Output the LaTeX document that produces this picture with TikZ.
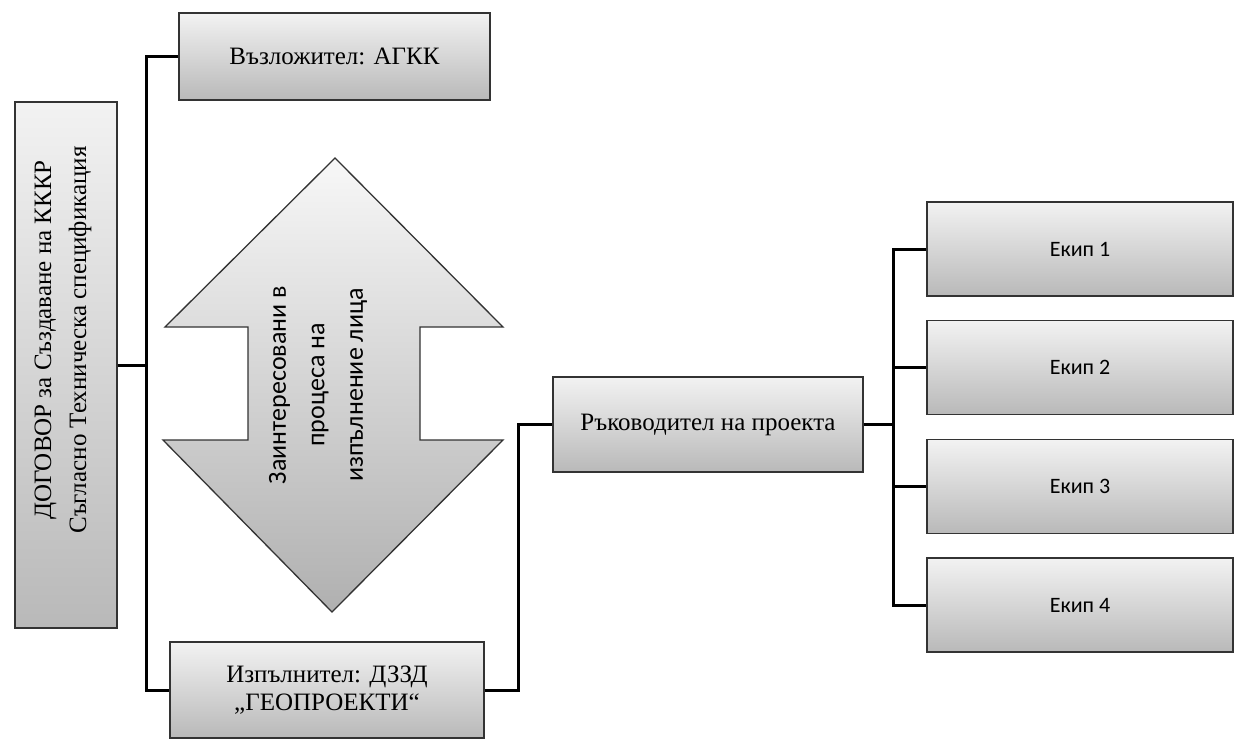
\documentclass[tikz,border=0pt]{standalone}
\usepackage{fontspec}
\setmainfont{Liberation Serif}
\newfontfamily\calibri{Carlito}
\usepackage{tikz}
\usepackage{xcolor}

\begin{document}
\begin{tikzpicture}[x=1pt,y=-1pt,
        box/.style={rectangle,draw=black!80,line width=1.3pt,top color=gray!10,bottom color=gray!55,
            inner sep=2pt,align=center,font=\fontsize{25}{28}\selectfont},
        team/.style={box,minimum width=306,minimum height=94,font=\calibri\fontsize{22}{26}\selectfont},
        link/.style={line width=3pt,black}]
                \useasboundingbox (0,0) rectangle (1236,740);

                % contract and the two parties
                \node (dog) at (66,365) [box,rotate=90,minimum width=526,minimum height=102] {};
                \node (dogt) at (63,340) [rotate=90,align=center,font=\fontsize{25}{35}\selectfont] {ДОГОВОР за Създаване на КККР\\Съгласно Техническа спецификация};
                \node (vaz) at (334.5,56.5) [box,minimum width=311,minimum height=87] {Възложител: АГКК};
                \node (izp) at (327,690) [box,minimum width=314,minimum height=96] {Изпълнител: ДЗЗД\\„ГЕОПРОЕКТИ“};
                \node (ruk) at (708,424.5) [box,minimum width=310,minimum height=95] {Ръководител на проекта};

                % teams
                \node (e1) at (1080,249) [team] {Екип 1};
                \node (e2) at (1080,367.5) [team] {Екип 2};
                \node (e3) at (1080,486.5) [team] {Екип 3};
                \node (e4) at (1080,605) [team] {Екип 4};

                % double arrow
                \draw[draw=black!80,line width=1.3pt,top color=gray!6,bottom color=gray!62]
                    (335,158) -- (503,327) -- (420,327) -- (420,440) -- (503,440) -- (332,612)
                    -- (163,440) -- (248,440) -- (248,327) -- (165,327) -- cycle;
                \node (zl) at (318,385) [rotate=90,align=center,font=\calibri\fontsize{26}{38.5}\selectfont] {Заинтересовани в\\процеса на\\изпълнение лица};

                \coordinate (t1) at (146,365);
                \coordinate (t2) at (518,424.5);
                \coordinate (t3) at (893,424.5);

                \draw[link] (dog.south) -- (t1);
                \draw[link] (vaz.west) -| (t1) |- (izp.west);
                \draw[link] (izp.east) -| (t2) -- (ruk.west);
                \draw[link] (ruk.east) -- (t3);
                \foreach \i in {1,...,4}
                    \draw[link] (t3) |- (e\i.west);

            \end{tikzpicture}
\end{document}
